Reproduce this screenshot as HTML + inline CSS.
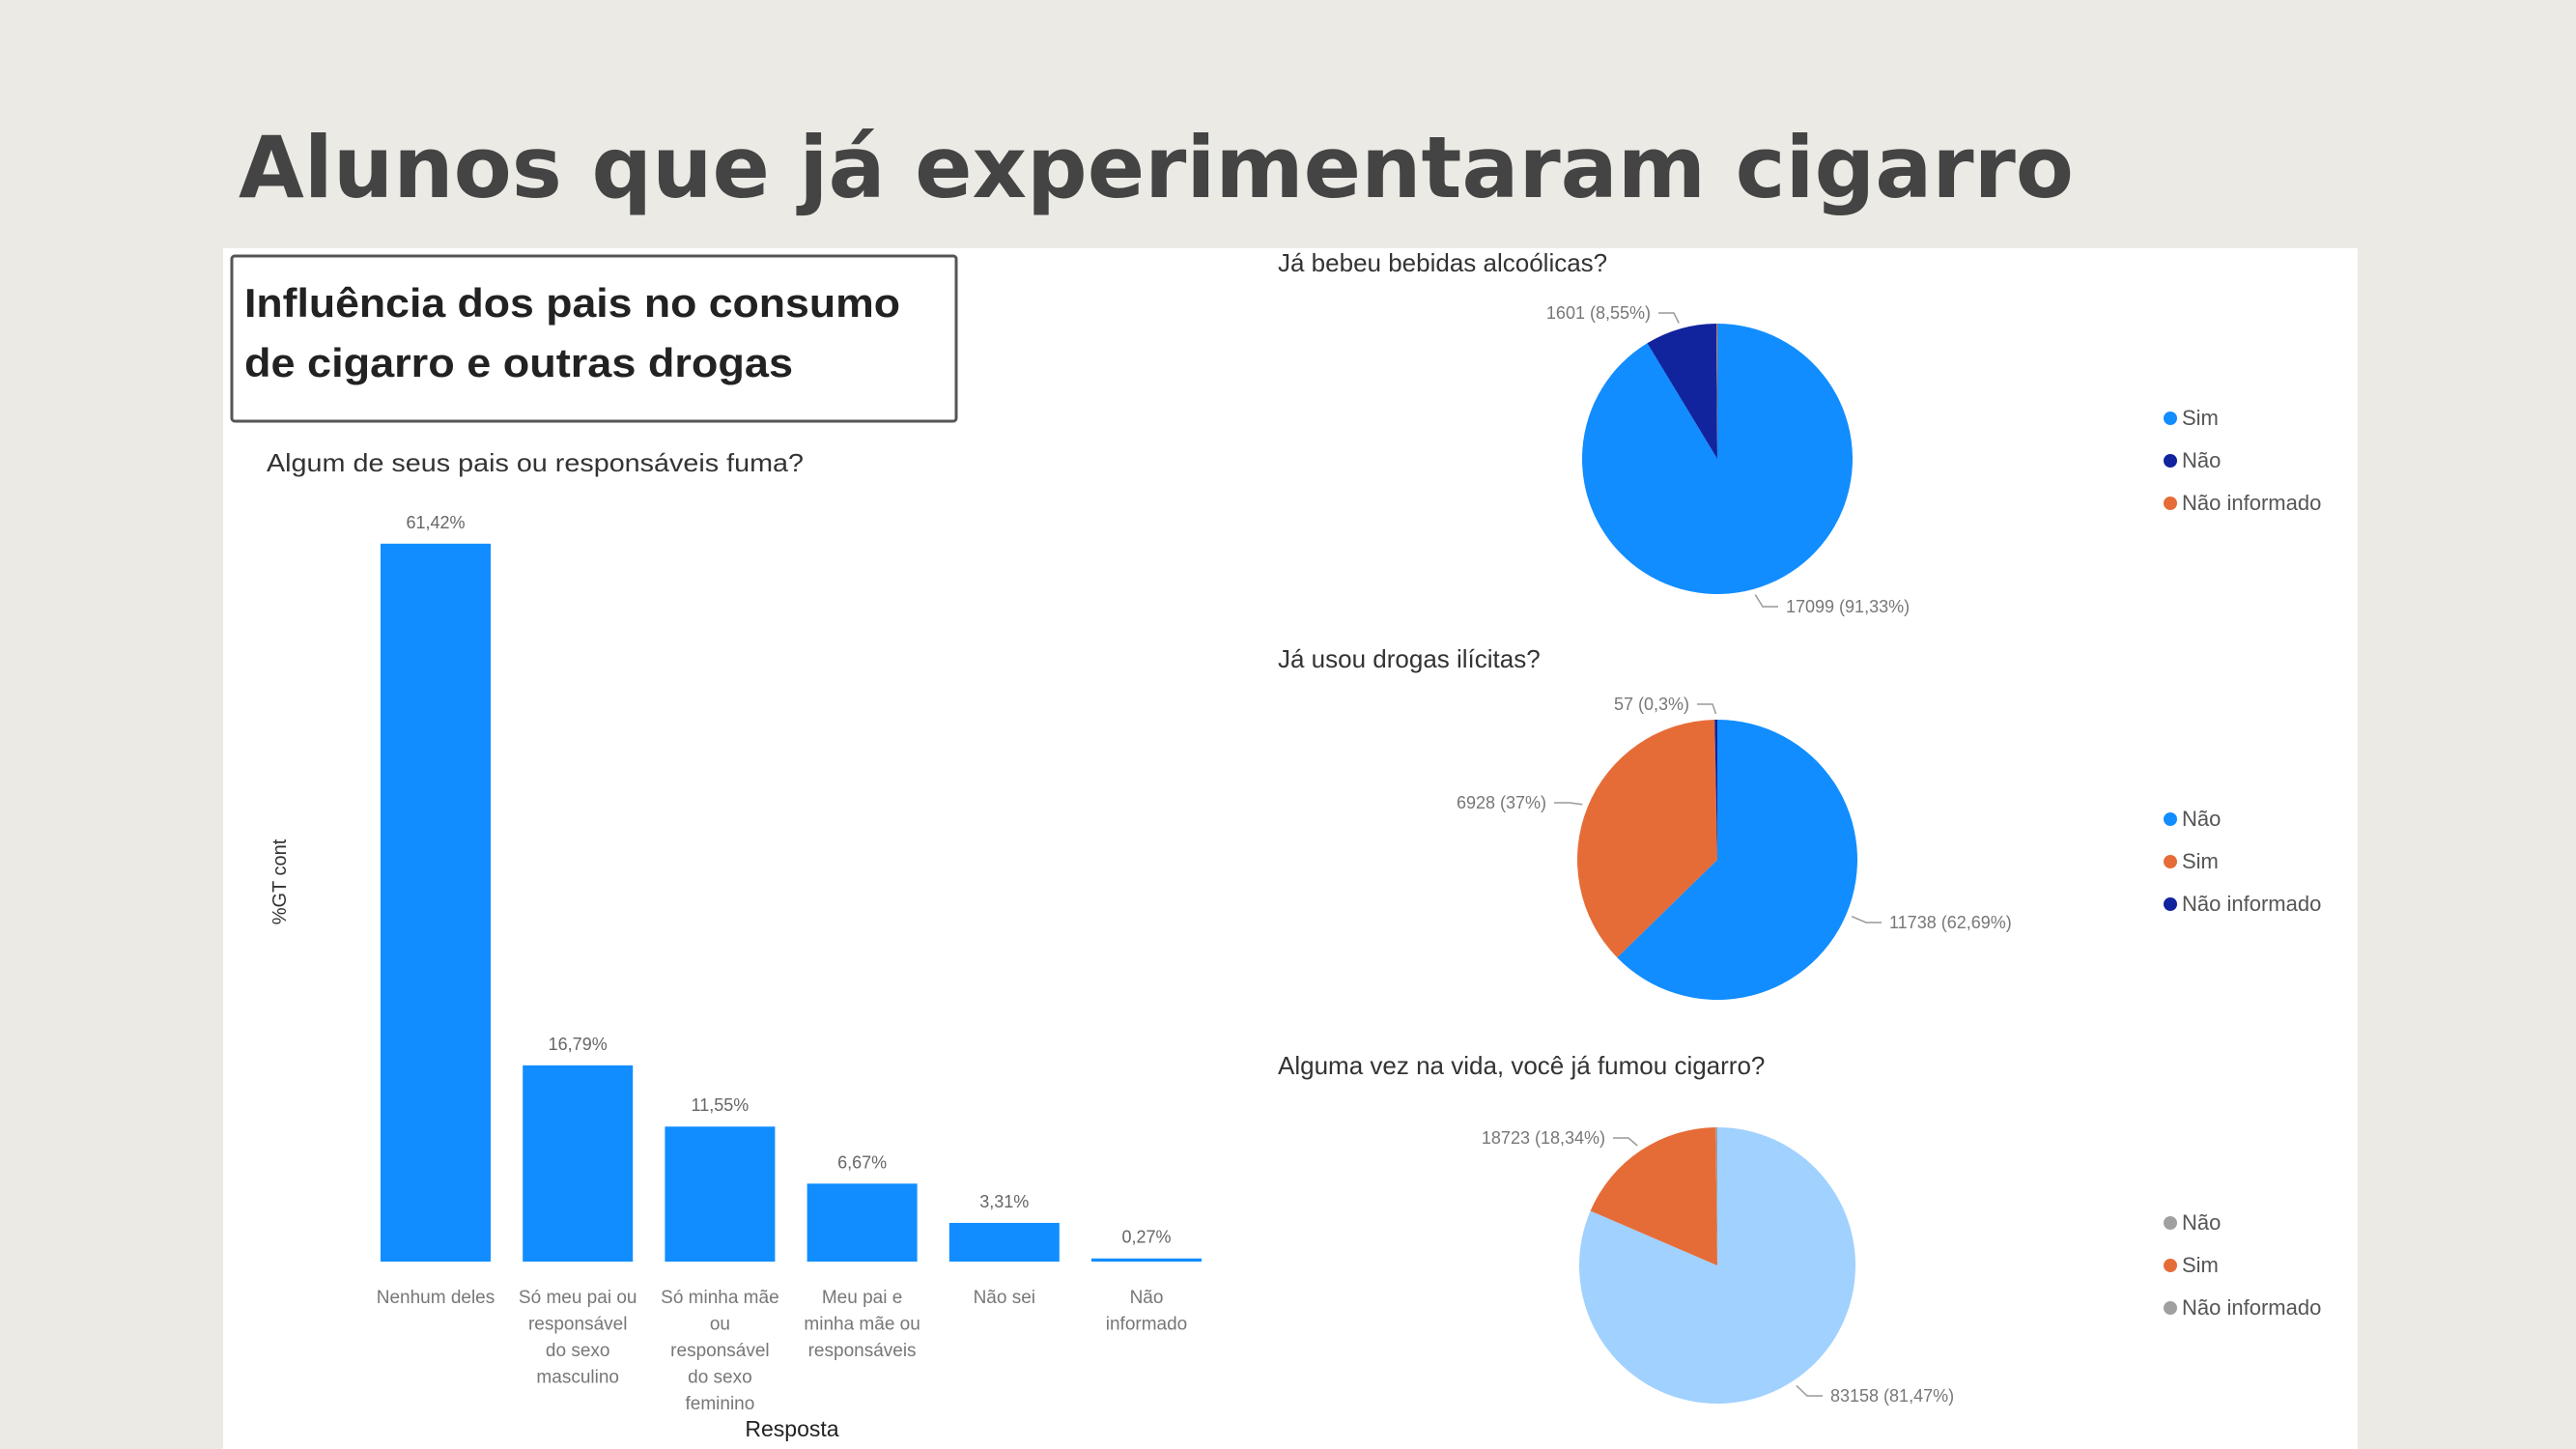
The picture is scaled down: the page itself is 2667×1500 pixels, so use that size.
<!DOCTYPE html>
<html><head><meta charset="utf-8"><style>
html,body{margin:0;padding:0;background:#ECEAE4;}
svg{display:block;font-family:"Liberation Sans","DejaVu Sans",sans-serif;}
</style></head><body>
<svg id="root" width="2667" height="1500" viewBox="0 0 2667 1500" xmlns="http://www.w3.org/2000/svg">
<rect x="0" y="0" width="2667" height="1500" fill="#ECEAE4"/>
<text x="247" y="204" font-family="DejaVu Sans, sans-serif" font-weight="bold" font-size="88" fill="#444444" textLength="1900" lengthAdjust="spacingAndGlyphs">Alunos que já experimentaram cigarro</text>
<rect x="231" y="257" width="2210" height="1243" fill="#FFFFFF"/>
<rect x="240" y="265" width="750" height="171" fill="#FFFFFF" stroke="#555" stroke-width="3" rx="3"/>
<text x="253" y="328" font-weight="bold" font-size="42" fill="#222" textLength="679" lengthAdjust="spacingAndGlyphs">Influência dos pais no consumo</text>
<text x="253" y="390" font-weight="bold" font-size="42" fill="#222" textLength="568" lengthAdjust="spacingAndGlyphs">de cigarro e outras drogas</text>
<text x="276" y="488" font-size="26" fill="#333" textLength="556" lengthAdjust="spacingAndGlyphs">Algum de seus pais ou responsáveis fuma?</text>
<text transform="translate(296,913) rotate(-90)" text-anchor="middle" font-size="20" fill="#333">%GT cont</text>
<text x="820" y="1487" text-anchor="middle" font-size="23" fill="#222">Resposta</text>
<g id="bars"></g>
<g id="pies"></g>
</svg>
<script>
const categories = [["Nenhum deles"],["Só meu pai ou","responsável","do sexo","masculino"],["Só minha mãe","ou","responsável","do sexo","feminino"],["Meu pai e","minha mãe ou","responsáveis"],["Não sei"],["Não","informado"]];
const barValues = [61.42,16.79,11.55,6.67,3.31,0.27];
const barLabels = ["61,42%","16,79%","11,55%","6,67%","3,31%","0,27%"];

const pieTitles = ["Já bebeu bebidas alcoólicas?","Já usou drogas ilícitas?","Alguma vez na vida, você já fumou cigarro?"];
const pie1Names = ["Sim","Não","Não informado"];
const pie1Values = [17099,1601,22];
const pie2Names = ["Não","Sim","Não informado"];
const pie2Values = [11738,6928,57];
const pie3Names = ["Não","Sim","Não informado"];
const pie3Values = [83158,18723,200];
const pieDataLabels = [["17099 (91,33%)","1601 (8,55%)",null],["11738 (62,69%)","6928 (37%)","57 (0,3%)"],["83158 (81,47%)","18723 (18,34%)",null]];

const NS="http://www.w3.org/2000/svg";
function mk(tag,attrs,parent){const e=document.createElementNS(NS,tag);for(const k in attrs)e.setAttribute(k,attrs[k]);parent.appendChild(e);return e;}

const barsG=document.getElementById('bars');
const baseY=1306, pxPerPct=12.1, x0=451, step=147.2, bw=114;
const yScale=v=>baseY-v*pxPerPct;
const xScale=i=>x0+i*step;
barValues.forEach((v,i)=>{
  const cx=xScale(i), top=yScale(v);
  const r=mk('rect',{x:cx-bw/2,y:top,width:bw,height:Math.max(baseY-top,3),fill:'#118DFF'},barsG);
  
  
  const t=mk('text',{x:cx,y:top-16,'text-anchor':'middle','font-size':18,fill:'#666'},barsG);
  t.textContent=barLabels[i];
  
  
  const cl=mk('text',{'text-anchor':'middle','font-size':19,fill:'#777'},barsG);
  
  
  categories[i].forEach((ln,j)=>{const ts=mk('tspan',{x:cx,y:1349+j*27.5},cl);ts.textContent=ln;});
});

const piesG=document.getElementById('pies');
const pieValues=[pie1Values,pie2Values,pie3Values];
const pieNames=[pie1Names,pie2Names,pie3Names];
const pieColors=[["#118DFF","#12239E","#E66C37"],["#118DFF","#E66C37","#12239E"],["#A0D1FF","#E66C37","#A0A0A0"]];
const legendColors=[["#118DFF","#12239E","#E66C37"],["#118DFF","#E66C37","#12239E"],["#A0A0A0","#E66C37","#A0A0A0"]];
const pieGeom=[{cx:1778,cy:475,r:140,ty:281,ly:440},{cx:1778,cy:890,r:145,ty:691,ly:855},{cx:1778,cy:1310,r:143,ty:1112,ly:1273}];
const labelPos=[[[1849,634,'start'],[1709,330,'end'],null],[[1956,961,'start'],[1601,837,'end'],[1749,735,'end']],[[1895,1451,'start'],[1662,1184,'end'],null]];
pieValues.forEach((vals,p)=>{
  const g=pieGeom[p];
  const tt=mk('text',{x:1323,y:g.ty,'font-size':26,fill:'#333'},piesG);
  tt.textContent=pieTitles[p];
  
  
  const total=vals.reduce((a,b)=>a+b,0);
  let acc=0;
  vals.forEach((v,i)=>{
    const a0=acc/total*2*Math.PI; acc+=v; const a1=acc/total*2*Math.PI;
    const x0=g.cx+g.r*Math.sin(a0), y0=g.cy-g.r*Math.cos(a0);
    const x1=g.cx+g.r*Math.sin(a1), y1=g.cy-g.r*Math.cos(a1);
    const large=(a1-a0)>Math.PI?1:0;
    const path=mk('path',{d:`M${g.cx},${g.cy} L${x0},${y0} A${g.r},${g.r} 0 ${large} 1 ${x1},${y1} Z`,fill:pieColors[p][i]},piesG);
    
    
    const lp=labelPos[p][i];
    if(lp){
      const am=(a0+a1)/2;
      const ex=g.cx+(g.r+6)*Math.sin(am), ey=g.cy-(g.r+6)*Math.cos(am);
      const lx=lp[2]==='end'?lp[0]+8:lp[0]-8;
      mk('polyline',{points:`${ex},${ey} ${lx+(lp[2]==='end'?16:-16)},${lp[1]-6} ${lx},${lp[1]-6}`,fill:'none',stroke:'#999','stroke-width':1.5},piesG);
      const dl=mk('text',{x:lp[0],y:lp[1],'text-anchor':lp[2],'font-size':18,fill:'#777'},piesG);
      dl.textContent=pieDataLabels[p][i];
      
      
    }
  });
  pieNames[p].forEach((n,i)=>{
    const y=g.ly+i*44;
    const c=mk('circle',{cx:2247,cy:y-7,r:7,fill:legendColors[p][i]},piesG);
    
    
    const lt=mk('text',{x:2259,y:y,'font-size':22,fill:'#555'},piesG);
    lt.textContent=n;
    
    
  });
});
</script>
</body></html>
